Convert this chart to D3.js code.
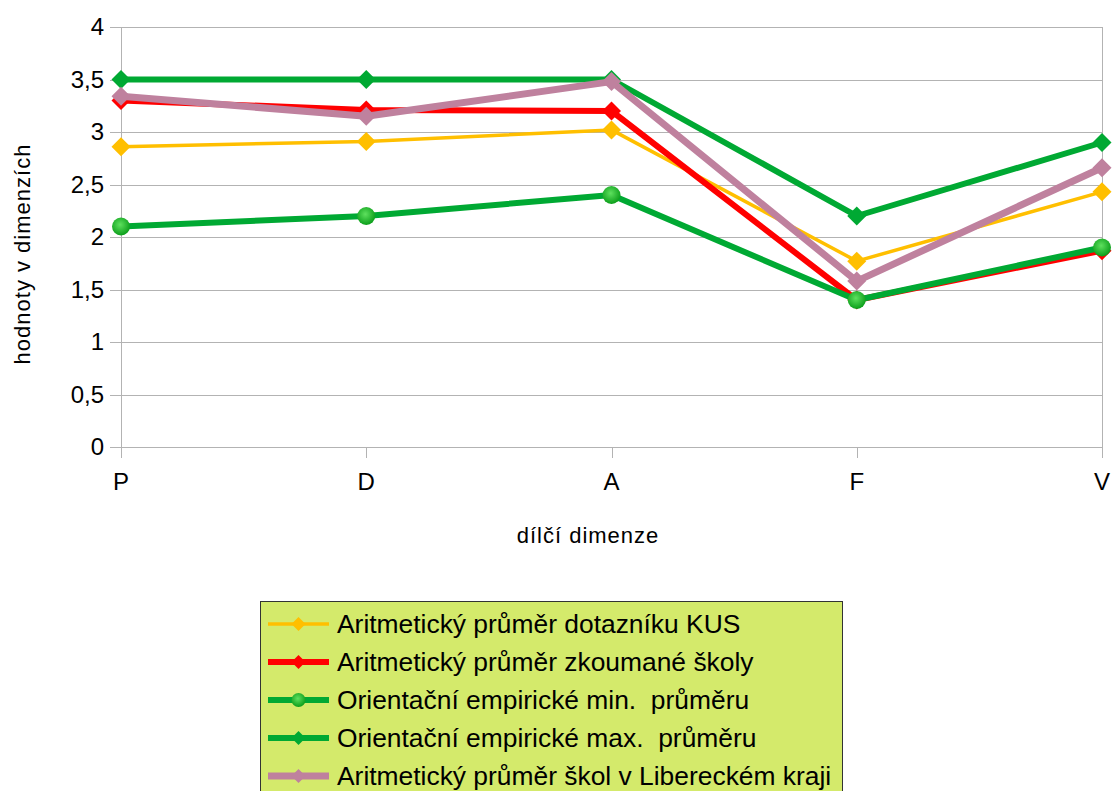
<!DOCTYPE html>
<html>
<head>
<meta charset="utf-8">
<script src="https://cdn.jsdelivr.net/npm/d3@7"></script>
<style>
  body { margin: 0; background: #fff; }
  svg { display: block; font-family: "Liberation Sans", Arial, sans-serif; }
  text { white-space: pre; }
</style>
</head>
<body>
<div id="chart"></div>
<script>
// categories (dimensions) and values for each series
const categories = ["P", "D", "A", "F", "V"];
const yTicks = [0, 0.5, 1, 1.5, 2, 2.5, 3, 3.5, 4];
const kusMean = [2.86, 2.91, 3.02, 1.77, 2.43];
const schoolMean = [3.30, 3.21, 3.20, 1.40, 1.87];
const empiricalMin = [2.1, 2.2, 2.4, 1.4, 1.9];
const empiricalMax = [3.5, 3.5, 3.5, 2.2, 2.9];
const liberecMean = [3.34, 3.15, 3.48, 1.58, 2.66];

const seriesNames = [
    "Aritmetický průměr dotazníku KUS",
    "Aritmetický průměr zkoumané školy",
    "Orientační empirické min.  průměru",
    "Orientační empirické max.  průměru",
    "Aritmetický průměr škol v Libereckém kraji"
];

// styling for each series
const series = [
    { name: seriesNames[0], values: kusMean, color: "#ffbf00", width: 3.5, marker: "diamond" },
    { name: seriesNames[1], values: schoolMean, color: "#ff0000", width: 6, marker: "diamond" },
    { name: seriesNames[2], values: empiricalMin, color: "#00a933", width: 6, marker: "circle" },
    { name: seriesNames[3], values: empiricalMax, color: "#00a933", width: 6, marker: "diamond" },
    { name: seriesNames[4], values: liberecMean, color: "#bf819e", width: 7, marker: "diamond" }
];

const width = 1112, height = 791;

let svg = d3.select("#chart")
    .append("svg")
    .attr("width", width)
    .attr("height", height);

// gradient for the round marker
let grad = svg.append("defs").append("radialGradient")
    .attr("id", "ball")
    .attr("cx", "45%").attr("cy", "40%").attr("r", "60%");
grad.append("stop").attr("offset", "0%").attr("stop-color", "#5ee05e");
grad.append("stop").attr("offset", "100%").attr("stop-color", "#0b9e1a");

// scales
let x = d3.scalePoint()
    .domain(categories)
    .range([121, 1102]);

let y = d3.scaleLinear()
    .domain([0, 4])
    .range([447, 27]);

// horizontal grid lines
svg.append("g")
    .selectAll("line")
    .data(yTicks)
    .enter()
    .append("line")
    .attr("x1", 110)
    .attr("x2", 1102)
    .attr("y1", d => Math.round(y(d)) + 0.5)
    .attr("y2", d => Math.round(y(d)) + 0.5)
    .attr("stroke", "#b3b3b3")
    .attr("stroke-width", 1);

// y axis line and right border
[121, 1102].forEach(px => {
    svg.append("line")
        .attr("x1", px + 0.5).attr("x2", px + 0.5)
        .attr("y1", 27).attr("y2", 447)
        .attr("stroke", "#b3b3b3");
});

// x tick marks
svg.append("g")
    .selectAll("line")
    .data(categories)
    .enter()
    .append("line")
    .attr("x1", d => Math.round(x(d)) + 0.5)
    .attr("x2", d => Math.round(x(d)) + 0.5)
    .attr("y1", 447)
    .attr("y2", 458)
    .attr("stroke", "#b3b3b3");

// y tick labels
svg.append("g")
    .selectAll("text")
    .data(yTicks)
    .enter()
    .append("text")
    .attr("x", 104)
    .attr("y", d => y(d))
    .attr("dy", "0.35em")
    .attr("text-anchor", "end")
    .attr("font-size", 24)
    .attr("fill", "#000")
    .text(d => d3.format("")(d).replace(".", ","));

// x tick labels
svg.append("g")
    .selectAll("text")
    .data(categories)
    .enter()
    .append("text")
    .attr("x", d => x(d))
    .attr("y", 490)
    .attr("text-anchor", "middle")
    .attr("font-size", 24)
    .attr("fill", "#000")
    .text(d => d);

// axis titles
svg.append("text")
    .attr("x", 588)
    .attr("y", 543)
    .attr("text-anchor", "middle")
    .attr("font-size", 22)
    .attr("letter-spacing", 1)
    .text("dílčí dimenze");

svg.append("text")
    .attr("transform", "translate(30, 254) rotate(-90)")
    .attr("text-anchor", "middle")
    .attr("font-size", 22)
    .attr("letter-spacing", 1)
    .text("hodnoty v dimenzích");

// lines and markers
let line = d3.line()
    .x((d, i) => x(categories[i]))
    .y(d => y(d));

function drawMarker(g, type, cx, cy, size, color) {
    if (type === "circle") {
        g.append("circle")
            .attr("cx", cx).attr("cy", cy).attr("r", size)
            .attr("fill", "url(#ball)");
    } else {
        g.append("path")
            .attr("d", `M${cx},${cy - size}L${cx + size},${cy}L${cx},${cy + size}L${cx - size},${cy}Z`)
            .attr("fill", color);
    }
}

series.forEach(s => {
    let g = svg.append("g");
    g.append("path")
        .datum(s.values)
        .attr("d", line)
        .attr("fill", "none")
        .attr("stroke", s.color)
        .attr("stroke-width", s.width)
        .attr("stroke-linejoin", "round");
    s.values.forEach((v, i) => {
        drawMarker(g, s.marker, x(categories[i]), y(v), s.marker === "circle" ? 9 : 9.5, s.color);
    });
});

// legend
let legend = svg.append("g");
legend.append("rect")
    .attr("x", 260.5)
    .attr("y", 601.5)
    .attr("width", 582)
    .attr("height", 200)
    .attr("fill", "#d4ea6b")
    .attr("stroke", "#333")
    .attr("stroke-width", 1);

series.forEach((s, i) => {
    let cy = 624 + i * 38;
    let row = legend.append("g");
    row.append("line")
        .attr("x1", 268).attr("x2", 329)
        .attr("y1", cy).attr("y2", cy)
        .attr("stroke", s.color)
        .attr("stroke-width", s.width);
    drawMarker(row, s.marker, 298.5, cy, s.marker === "circle" ? 7 : 7, s.color);
    row.append("text")
        .attr("x", 337)
        .attr("y", cy)
        .attr("dy", "0.35em")
        .attr("font-size", 26.4)
        .attr("fill", "#000")
        .text(s.name);
});
</script>
</body>
</html>
